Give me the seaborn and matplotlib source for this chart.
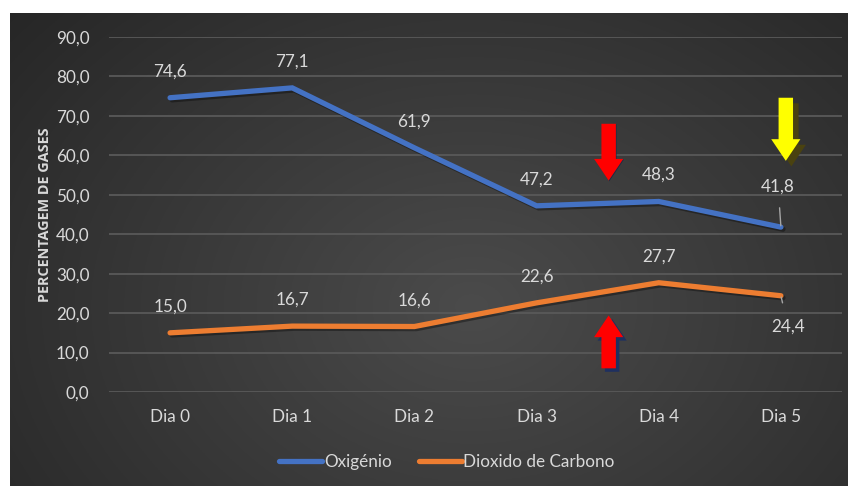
import numpy as np
import pandas as pd
import matplotlib
matplotlib.use("Agg")
import matplotlib.pyplot as plt
import matplotlib.patheffects as pe
import seaborn as sns

# ---- data ----
days = ["Dia 0", "Dia 1", "Dia 2", "Dia 3", "Dia 4", "Dia 5"]
oxigenio = [74.6, 77.1, 61.9, 47.2, 48.3, 41.8]
dioxido = [15.0, 16.7, 16.6, 22.6, 27.7, 24.4]
series_names = ["Oxigénio", "Dioxido de Carbono"]
y_label = "PERCENTAGEM DE GASES"
y_ticks = [0, 10, 20, 30, 40, 50, 60, 70, 80, 90]

df = pd.DataFrame({
    "dia": days * 2,
    "valor": oxigenio + dioxido,
    "serie": [series_names[0]] * len(days) + [series_names[1]] * len(days),
})

sns.set_theme(style="dark")
plt.rcParams["font.family"] = ["Lato", "DejaVu Sans"]

W, H = 848, 486
fig = plt.figure(figsize=(W / 100, H / 100), dpi=100)
fig.patch.set_facecolor("white")

# background panel with radial gradient
bg = fig.add_axes([10 / W, 0, (W - 10) / W, (H - 13) / H])
bg.set_axis_off()
ny, nx = 300, 520
yy, xx = np.mgrid[0:ny, 0:nx]
cx, cy = 0.55 * nx, 0.62 * ny
r = np.sqrt(((xx - cx) / nx) ** 2 + ((yy - cy) / ny * 0.75) ** 2)
r = np.clip(r / 0.75, 0, 1)
c_center = np.array([0x4b, 0x4b, 0x4b]) / 255
c_edge = np.array([0x25, 0x25, 0x25]) / 255
img = c_center[None, None, :] * (1 - r[..., None]) + c_edge[None, None, :] * r[..., None]
bg.imshow(img, aspect="auto", extent=[0, 1, 0, 1], origin="upper")
bg.set_xlim(0, 1)
bg.set_ylim(0, 1)

ax = fig.add_axes([109 / W, 1 - 392 / H, (842 - 109) / W, (392 - 37) / H])
ax.patch.set_alpha(0)

palette = {series_names[0]: "#4472C4", series_names[1]: "#ED7D31"}
sns.lineplot(data=df, x="dia", y="valor", hue="serie", palette=palette,
             sort=False, linewidth=3.8, ax=ax, legend=False,
             solid_capstyle="round", solid_joinstyle="miter")
for ln in ax.lines:
    ln.set_path_effects([pe.SimpleLineShadow(offset=(1.5, -1.5), shadow_color="black", alpha=0.35),
                         pe.Normal()])

ax.set_xlim(-0.5, len(days) - 0.5)
ax.set_ylim(0, 90)
ax.set_yticks(y_ticks)
ax.set_yticklabels([f"{v:.1f}".replace(".", ",") for v in y_ticks])
ax.grid(axis="y", color="#595959", linewidth=1.3)
ax.grid(axis="x", visible=False)
for s in ax.spines.values():
    s.set_visible(False)
ax.tick_params(axis="both", colors="#d9d9d9", labelsize=12.3, length=0)
ax.tick_params(axis="y", pad=14)
ax.tick_params(axis="x", pad=12)
for t in ax.get_xticklabels() + ax.get_yticklabels():
    t.set_color("#d9d9d9")
ax.set_xlabel("")
ax.set_ylabel(y_label, color="#d9d9d9", fontsize=10.4, fontweight="bold", labelpad=3,
              family=["Open Sans", "DejaVu Sans"])

lab_kw = dict(color="#d9d9d9", fontsize=12.3, ha="center", va="center",
              textcoords="offset points")
for i, v in enumerate(oxigenio):
    txt = f"{v:.1f}".replace(".", ",")
    if i == len(days) - 1:
        ax.annotate(txt, xy=(i, v), xytext=(-2, 29), **lab_kw,
                    arrowprops=dict(arrowstyle="-", color="#a6a6a6", lw=1,
                                    shrinkA=7, shrinkB=1))
    else:
        ax.annotate(txt, xy=(i, v), xytext=(0, 19), **lab_kw)
for i, v in enumerate(dioxido):
    txt = f"{v:.1f}".replace(".", ",")
    if i == len(days) - 1:
        ax.annotate(txt, xy=(i, v), xytext=(5, -22), **lab_kw,
                    arrowprops=dict(arrowstyle="-", color="#a6a6a6", lw=1,
                                    shrinkA=9, shrinkB=1))
    else:
        ax.annotate(txt, xy=(i, v), xytext=(0, 19), **lab_kw)

# annotation arrows
def block_arrow(tail, tip, color, shadow, sh_off):
    a = ax.annotate("", xy=tip, xytext=tail,
                    arrowprops=dict(arrowstyle="simple,head_width=1.05,head_length=0.78,tail_width=0.52",
                                    fc=color, ec="none", mutation_scale=20,
                                    shrinkA=0, shrinkB=0))
    a.arrow_patch.set_path_effects([
        pe.SimplePatchShadow(offset=sh_off, shadow_rgbFace=shadow, alpha=1.0),
        pe.Normal()])
    return a

block_arrow((3.59, 68.0), (3.59, 53.6), "#FF0000", "#1f2a44", (0.5, -0.5))
block_arrow((3.59, 6.0), (3.59, 19.4), "#FF0000", "#1f3060", (2.5, -2.5))
block_arrow((5.04, 74.6), (5.04, 58.6), "#FFFF00", "#4a4210", (4, -4))
ax.plot([5.04, 5.04], [73.5, 64.0], color="#333300", lw=0.8)

leg_handles = [plt.Line2D([], [], color=palette[n], lw=3.8, solid_capstyle="round")
               for n in series_names]
leg = fig.legend(leg_handles, series_names, loc="center", bbox_to_anchor=(447 / W, 1 - 462 / H),
                 ncol=2, frameon=False, fontsize=12.3, handlelength=2.5,
                 handletextpad=0.1, columnspacing=1.6)
for t in leg.get_texts():
    t.set_color("#d9d9d9")

fig.savefig("out.png", dpi=100, facecolor=fig.get_facecolor())
